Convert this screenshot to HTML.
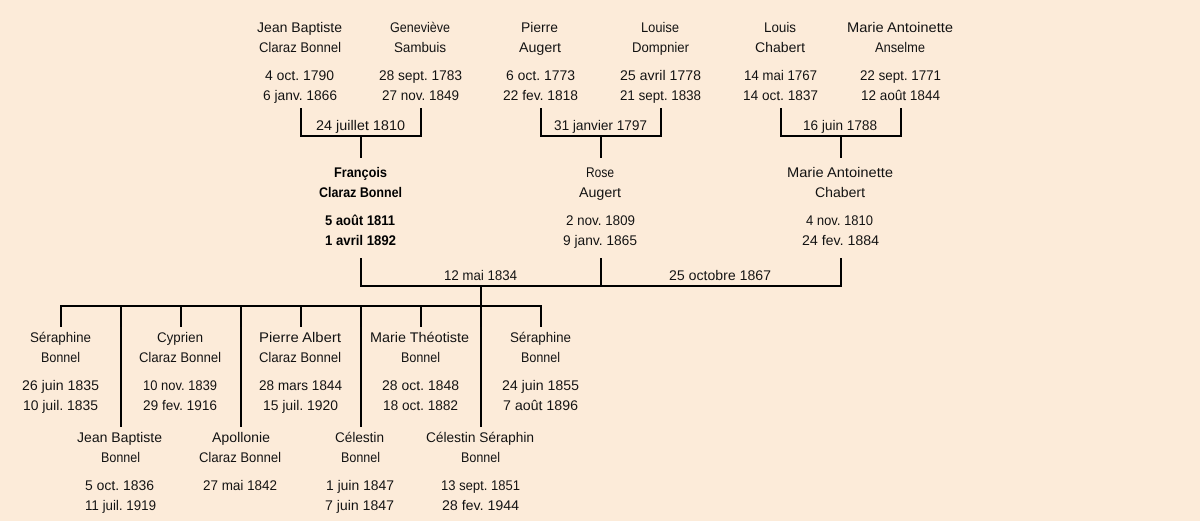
<!DOCTYPE html>
<html><head><meta charset="utf-8"><style>
html,body{margin:0;padding:0;background:#fcebd9;width:1200px;height:521px;overflow:hidden}
svg{display:block}
text{font-family:"Liberation Sans",sans-serif;font-size:14px;fill:#111;text-anchor:middle;text-rendering:geometricPrecision}
.b{font-weight:bold;fill:#000}
</style></head><body>
<svg width="1200" height="521" viewBox="0 0 1200 521" xmlns="http://www.w3.org/2000/svg">
<rect width="1200" height="521" fill="#fcebd9"/>
<g fill="#000">
<rect x="300" y="108" width="2" height="29"/><rect x="420" y="108" width="2" height="29"/><rect x="300" y="135" width="122" height="2"/><rect x="360" y="137" width="2" height="21"/>
<rect x="540" y="108" width="2" height="29"/><rect x="660" y="108" width="2" height="29"/><rect x="540" y="135" width="122" height="2"/><rect x="600" y="137" width="2" height="21"/>
<rect x="780" y="108" width="2" height="29"/><rect x="900" y="108" width="2" height="29"/><rect x="780" y="135" width="122" height="2"/><rect x="840" y="137" width="2" height="21"/>
<rect x="360" y="258" width="2" height="29"/><rect x="600" y="258" width="2" height="29"/><rect x="840" y="258" width="2" height="29"/><rect x="360" y="285" width="482" height="2"/>
<rect x="480" y="287" width="2" height="20"/><rect x="60" y="305" width="482" height="2"/>
<rect x="60" y="307" width="2" height="20"/><rect x="180" y="307" width="2" height="20"/><rect x="300" y="307" width="2" height="20"/><rect x="420" y="307" width="2" height="20"/><rect x="540" y="307" width="2" height="20"/>
<rect x="120" y="307" width="2" height="120"/><rect x="240" y="307" width="2" height="120"/><rect x="360" y="307" width="2" height="120"/><rect x="480" y="307" width="2" height="120"/>
</g>
<g>
<text x="299.5" y="32" textLength="85" lengthAdjust="spacingAndGlyphs">Jean Baptiste</text>
<text x="300" y="52" textLength="82" lengthAdjust="spacingAndGlyphs">Claraz Bonnel</text>
<text x="299.5" y="80" textLength="69" lengthAdjust="spacingAndGlyphs">4 oct. 1790</text>
<text x="300" y="100" textLength="74" lengthAdjust="spacingAndGlyphs">6 janv. 1866</text>
<text x="420" y="32" textLength="60" lengthAdjust="spacingAndGlyphs">Geneviève</text>
<text x="420" y="52" textLength="52" lengthAdjust="spacingAndGlyphs">Sambuis</text>
<text x="420.5" y="80" textLength="83" lengthAdjust="spacingAndGlyphs">28 sept. 1783</text>
<text x="420.5" y="100" textLength="77" lengthAdjust="spacingAndGlyphs">27 nov. 1849</text>
<text x="539.5" y="32" textLength="37" lengthAdjust="spacingAndGlyphs">Pierre</text>
<text x="540" y="52" textLength="42" lengthAdjust="spacingAndGlyphs">Augert</text>
<text x="540.5" y="80" textLength="69" lengthAdjust="spacingAndGlyphs">6 oct. 1773</text>
<text x="540.5" y="100" textLength="75" lengthAdjust="spacingAndGlyphs">22 fev. 1818</text>
<text x="660" y="32" textLength="38" lengthAdjust="spacingAndGlyphs">Louise</text>
<text x="660.5" y="52" textLength="57" lengthAdjust="spacingAndGlyphs">Dompnier</text>
<text x="660.5" y="80" textLength="81" lengthAdjust="spacingAndGlyphs">25 avril 1778</text>
<text x="660.5" y="100" textLength="81" lengthAdjust="spacingAndGlyphs">21 sept. 1838</text>
<text x="780" y="32" textLength="32" lengthAdjust="spacingAndGlyphs">Louis</text>
<text x="780" y="52" textLength="50" lengthAdjust="spacingAndGlyphs">Chabert</text>
<text x="780.5" y="80" textLength="73" lengthAdjust="spacingAndGlyphs">14 mai 1767</text>
<text x="780.5" y="100" textLength="75" lengthAdjust="spacingAndGlyphs">14 oct. 1837</text>
<text x="900" y="32" textLength="106" lengthAdjust="spacingAndGlyphs">Marie Antoinette</text>
<text x="900" y="52" textLength="50" lengthAdjust="spacingAndGlyphs">Anselme</text>
<text x="900.5" y="80" textLength="81" lengthAdjust="spacingAndGlyphs">22 sept. 1771</text>
<text x="900.5" y="100" textLength="79" lengthAdjust="spacingAndGlyphs">12 août 1844</text>
<text x="360.5" y="130" textLength="89" lengthAdjust="spacingAndGlyphs">24 juillet 1810</text>
<text x="600.5" y="130" textLength="93" lengthAdjust="spacingAndGlyphs">31 janvier 1797</text>
<text x="840" y="130" textLength="74" lengthAdjust="spacingAndGlyphs">16 juin 1788</text>
<text class="b" x="360.5" y="177" textLength="53" lengthAdjust="spacingAndGlyphs">François</text>
<text class="b" x="360.5" y="197" textLength="83" lengthAdjust="spacingAndGlyphs">Claraz Bonnel</text>
<text class="b" x="360" y="225" textLength="70" lengthAdjust="spacingAndGlyphs">5 août 1811</text>
<text class="b" x="360.5" y="245" textLength="71" lengthAdjust="spacingAndGlyphs">1 avril 1892</text>
<text x="600" y="177" textLength="28" lengthAdjust="spacingAndGlyphs">Rose</text>
<text x="600" y="197" textLength="42" lengthAdjust="spacingAndGlyphs">Augert</text>
<text x="600.5" y="225" textLength="69" lengthAdjust="spacingAndGlyphs">2 nov. 1809</text>
<text x="600" y="245" textLength="74" lengthAdjust="spacingAndGlyphs">9 janv. 1865</text>
<text x="840" y="177" textLength="106" lengthAdjust="spacingAndGlyphs">Marie Antoinette</text>
<text x="840" y="197" textLength="50" lengthAdjust="spacingAndGlyphs">Chabert</text>
<text x="839.5" y="225" textLength="67" lengthAdjust="spacingAndGlyphs">4 nov. 1810</text>
<text x="840.5" y="245" textLength="77" lengthAdjust="spacingAndGlyphs">24 fev. 1884</text>
<text x="480.5" y="280" textLength="73" lengthAdjust="spacingAndGlyphs">12 mai 1834</text>
<text x="720" y="280" textLength="102" lengthAdjust="spacingAndGlyphs">25 octobre 1867</text>
<text x="60.5" y="342" textLength="61" lengthAdjust="spacingAndGlyphs">Séraphine</text>
<text x="60.5" y="362" textLength="39" lengthAdjust="spacingAndGlyphs">Bonnel</text>
<text x="60.5" y="390" textLength="77" lengthAdjust="spacingAndGlyphs">26 juin 1835</text>
<text x="60.5" y="410" textLength="75" lengthAdjust="spacingAndGlyphs">10 juil. 1835</text>
<text x="180" y="342" textLength="46" lengthAdjust="spacingAndGlyphs">Cyprien</text>
<text x="180" y="362" textLength="82" lengthAdjust="spacingAndGlyphs">Claraz Bonnel</text>
<text x="180" y="390" textLength="74" lengthAdjust="spacingAndGlyphs">10 nov. 1839</text>
<text x="180" y="410" textLength="74" lengthAdjust="spacingAndGlyphs">29 fev. 1916</text>
<text x="300" y="342" textLength="82" lengthAdjust="spacingAndGlyphs">Pierre Albert</text>
<text x="300" y="362" textLength="82" lengthAdjust="spacingAndGlyphs">Claraz Bonnel</text>
<text x="300.5" y="390" textLength="83" lengthAdjust="spacingAndGlyphs">28 mars 1844</text>
<text x="300.5" y="410" textLength="75" lengthAdjust="spacingAndGlyphs">15 juil. 1920</text>
<text x="419.5" y="342" textLength="99" lengthAdjust="spacingAndGlyphs">Marie Théotiste</text>
<text x="420.5" y="362" textLength="39" lengthAdjust="spacingAndGlyphs">Bonnel</text>
<text x="420.5" y="390" textLength="77" lengthAdjust="spacingAndGlyphs">28 oct. 1848</text>
<text x="420.5" y="410" textLength="75" lengthAdjust="spacingAndGlyphs">18 oct. 1882</text>
<text x="540.5" y="342" textLength="61" lengthAdjust="spacingAndGlyphs">Séraphine</text>
<text x="540.5" y="362" textLength="39" lengthAdjust="spacingAndGlyphs">Bonnel</text>
<text x="540.5" y="390" textLength="77" lengthAdjust="spacingAndGlyphs">24 juin 1855</text>
<text x="540.5" y="410" textLength="75" lengthAdjust="spacingAndGlyphs">7 août 1896</text>
<text x="119.5" y="442" textLength="85" lengthAdjust="spacingAndGlyphs">Jean Baptiste</text>
<text x="120.5" y="462" textLength="39" lengthAdjust="spacingAndGlyphs">Bonnel</text>
<text x="119.5" y="490" textLength="69" lengthAdjust="spacingAndGlyphs">5 oct. 1836</text>
<text x="120.5" y="510" textLength="71" lengthAdjust="spacingAndGlyphs">11 juil. 1919</text>
<text x="241" y="442" textLength="58" lengthAdjust="spacingAndGlyphs">Apollonie</text>
<text x="240" y="462" textLength="82" lengthAdjust="spacingAndGlyphs">Claraz Bonnel</text>
<text x="240" y="490" textLength="74" lengthAdjust="spacingAndGlyphs">27 mai 1842</text>
<text x="359.5" y="442" textLength="49" lengthAdjust="spacingAndGlyphs">Célestin</text>
<text x="360.5" y="462" textLength="39" lengthAdjust="spacingAndGlyphs">Bonnel</text>
<text x="360" y="490" textLength="68" lengthAdjust="spacingAndGlyphs">1 juin 1847</text>
<text x="359.5" y="510" textLength="69" lengthAdjust="spacingAndGlyphs">7 juin 1847</text>
<text x="480" y="442" textLength="108" lengthAdjust="spacingAndGlyphs">Célestin Séraphin</text>
<text x="480.5" y="462" textLength="39" lengthAdjust="spacingAndGlyphs">Bonnel</text>
<text x="480.5" y="490" textLength="79" lengthAdjust="spacingAndGlyphs">13 sept. 1851</text>
<text x="480.5" y="510" textLength="77" lengthAdjust="spacingAndGlyphs">28 fev. 1944</text>
</g>
</svg>
</body></html>
